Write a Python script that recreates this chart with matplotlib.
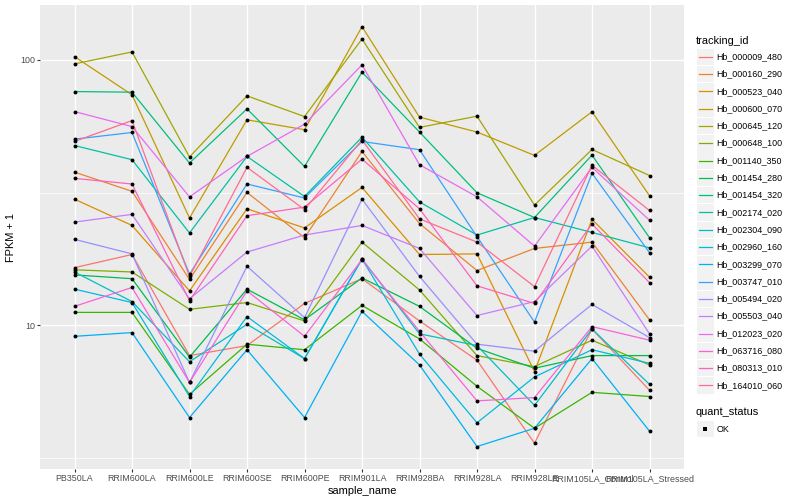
import numpy as np
import matplotlib
matplotlib.use("Agg")
import matplotlib.pyplot as plt
from matplotlib.patches import Rectangle
from matplotlib.ticker import FixedLocator, NullLocator

plt.rcParams['font.family'] = ['Liberation Sans', 'DejaVu Sans']

# x categories
samples = ["PB350LA", "RRIM600LA", "RRIM600LE", "RRIM600SE", "RRIM600PE", "RRIM901LA",
           "RRIM928BA", "RRIM928LA", "RRIM928LE", "RRIM105LA_Control", "RRIM105LA_Stressed"]

# FPKM + 1 per gene, one value per sample
hb_000009_480 = [16.5, 18.5, 7.7, 8.4, 12.1, 15.0, 10.4, 7.4, 3.6, 9.7, 5.7]
hb_000160_290 = [37.8, 32.0, 14.9, 31.7, 21.4, 45.2, 24.2, 16.1, 19.5, 20.6, 10.5]
hb_000523_040 = [29.9, 23.8, 13.5, 27.5, 23.3, 33.1, 18.5, 18.6, 6.7, 25.1, 15.2]
hb_000600_070 = [102.9, 73.9, 25.4, 59.5, 54.6, 133.4, 60.9, 53.5, 43.7, 63.8, 30.8]
hb_000645_120 = [96.6, 107.2, 43.1, 73.2, 61.2, 119.9, 55.7, 61.4, 28.4, 46.0, 36.7]
hb_000648_100 = [16.2, 15.9, 11.5, 12.2, 10.4, 20.6, 13.6, 7.7, 7.0, 8.8, 7.1]
hb_001140_350 = [11.2, 11.2, 5.5, 8.5, 8.1, 11.9, 8.9, 5.9, 4.1, 5.6, 5.4]
hb_001454_280 = [15.5, 15.0, 7.6, 13.7, 10.5, 15.1, 11.8, 8.2, 6.9, 7.7, 7.7]
hb_001454_320 = [76.0, 75.6, 40.9, 65.4, 39.7, 89.9, 53.5, 31.6, 25.5, 43.8, 21.4]
hb_002174_020 = [47.6, 42.1, 22.3, 43.3, 30.6, 51.2, 29.2, 21.9, 25.5, 22.4, 19.6]
hb_002304_090 = [15.9, 12.3, 7.3, 10.1, 7.5, 17.8, 9.3, 8.4, 5.0, 9.7, 6.0]
hb_002960_160 = [13.7, 12.2, 5.4, 10.8, 7.5, 17.8, 7.8, 4.3, 6.4, 8.1, 7.2]
hb_003299_070 = [9.1, 9.4, 4.5, 8.1, 4.5, 11.3, 7.1, 3.5, 4.1, 7.5, 4.0]
hb_003747_010 = [50.3, 53.3, 15.6, 34.1, 30.2, 49.3, 45.9, 21.6, 10.3, 37.4, 18.8]
hb_005494_020 = [21.1, 18.6, 6.1, 16.7, 10.7, 29.9, 15.3, 8.5, 8.0, 12.0, 9.0]
hb_005503_040 = [24.5, 26.2, 12.6, 18.9, 21.9, 23.8, 19.5, 10.9, 12.3, 19.9, 9.3]
hb_012023_020 = [63.9, 56.1, 30.5, 43.3, 57.3, 95.8, 40.3, 30.5, 19.9, 39.4, 24.9]
hb_063716_080 = [11.8, 13.9, 6.1, 13.5, 9.1, 17.7, 9.5, 5.2, 5.35, 9.9, 8.8]
hb_080313_010 = [35.8, 34.1, 12.4, 25.9, 27.9, 42.3, 27.5, 14.1, 12.1, 24.1, 14.5]
hb_164010_060 = [49.3, 59.1, 15.3, 39.4, 27.3, 50.0, 25.2, 20.6, 14.0, 40.1, 27.1]

tracking_ids = ["Hb_000009_480", "Hb_000160_290", "Hb_000523_040", "Hb_000600_070",
                "Hb_000645_120", "Hb_000648_100", "Hb_001140_350", "Hb_001454_280",
                "Hb_001454_320", "Hb_002174_020", "Hb_002304_090", "Hb_002960_160",
                "Hb_003299_070", "Hb_003747_010", "Hb_005494_020", "Hb_005503_040",
                "Hb_012023_020", "Hb_063716_080", "Hb_080313_010", "Hb_164010_060"]
series = [hb_000009_480, hb_000160_290, hb_000523_040, hb_000600_070, hb_000645_120,
          hb_000648_100, hb_001140_350, hb_001454_280, hb_001454_320, hb_002174_020,
          hb_002304_090, hb_002960_160, hb_003299_070, hb_003747_010, hb_005494_020,
          hb_005503_040, hb_012023_020, hb_063716_080, hb_080313_010, hb_164010_060]

# ggplot hue palette, 20 levels
colors = ["#F8766D", "#EA8331", "#D89000", "#C09B00", "#A3A500", "#7CAE00", "#39B600",
          "#00BB4E", "#00BF7D", "#00C1A3", "#00BFC4", "#00BAE0", "#00B0F6", "#35A2FF",
          "#9590FF", "#C77CFF", "#E76BF3", "#FA62DB", "#FF62BC", "#FF6C91"]

W, H = 800, 500
L, R, T, B = 40, 684, 5, 469

fig = plt.figure(figsize=(8, 5), dpi=100)
ax = fig.add_axes([L / W, 1 - B / H, (R - L) / W, (B - T) / H])
ax.set_facecolor("#EBEBEB")
for s in ax.spines.values():
    s.set_visible(False)

x = np.arange(1, len(samples) + 1)
for vals, c in zip(series, colors):
    ax.plot(x, vals, color=c, lw=0.9, zorder=2)
for vals in series:
    ax.plot(x, vals, "o", color="black", ms=2.8, mew=0, zorder=3)

ax.set_yscale("log")
ax.set_ylim(2.88, 161)
ax.set_xlim(0.4, len(samples) + 0.6)
ax.yaxis.set_major_locator(FixedLocator([10, 100]))
ax.yaxis.set_minor_locator(FixedLocator([10 ** 0.5, 10 ** 1.5]))
ax.set_yticklabels(["10", "100"])
ax.xaxis.set_minor_locator(NullLocator())
ax.set_xticks(x)
ax.set_xticklabels(samples)
ax.grid(True, which="major", color="white", lw=1.0)
ax.grid(True, which="minor", axis="y", color="white", lw=0.5)
ax.set_axisbelow(True)
ax.tick_params(which="major", length=2, width=0.8, color="#333333", labelsize=6.4,
               labelcolor="#4D4D4D", pad=1.6)
ax.tick_params(which="minor", length=0)
ax.set_xlabel("sample_name", fontsize=7.9, labelpad=2)
ax.set_ylabel("FPKM + 1", fontsize=7.9, labelpad=3)

# legend drawn by hand in pixel space, ggplot style
ov = fig.add_axes([0, 0, 1, 1])
ov.set_xlim(0, W)
ov.set_ylim(H, 0)
ov.axis("off")

ov.text(696, 40.5, "tracking_id", fontsize=7.9, va="center", ha="left")
for i, (name, c) in enumerate(zip(tracking_ids, colors)):
    yc = 56.7 + 17.3 * i
    ov.add_patch(Rectangle((697, yc - 8.2), 16.5, 16.5, color="#F2F2F2", lw=0))
    ov.plot([698.5, 711.5], [yc, yc], color=c, lw=0.9)
    ov.text(716.5, yc, name, fontsize=6.4, va="center", ha="left")

ov.text(696, 412.3, "quant_status", fontsize=7.9, va="center", ha="left")
ov.add_patch(Rectangle((697, 429 - 8.2), 16.5, 16.5, color="#F2F2F2", lw=0))
ov.plot([705.2], [429], "s", color="black", ms=2.6, mew=0)
ov.text(716.5, 429, "OK", fontsize=6.4, va="center", ha="left")

fig.savefig("out.png", dpi=100)
